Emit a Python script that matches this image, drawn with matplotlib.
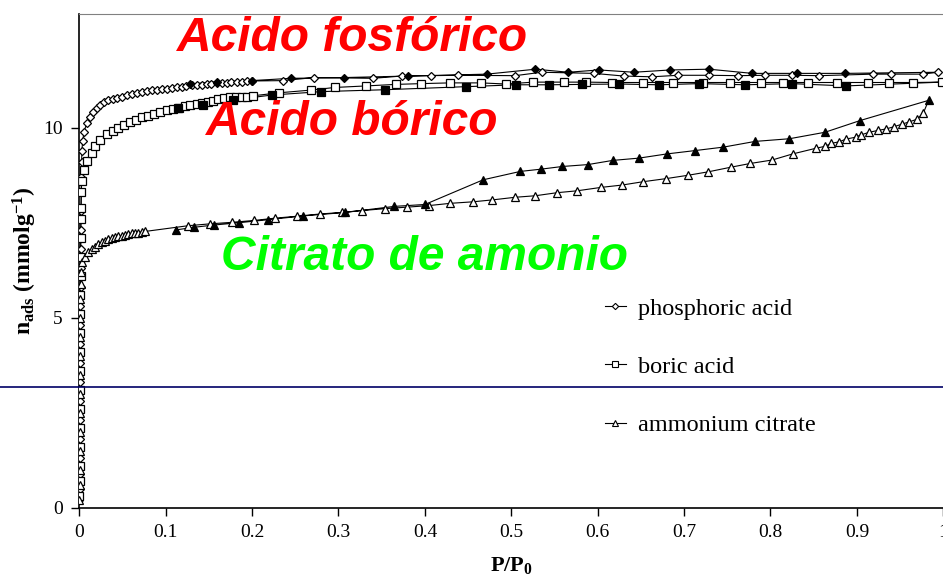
import matplotlib
matplotlib.use("Agg")
import matplotlib.pyplot as plt
from matplotlib.lines import Line2D

plt.rcParams['font.family'] = 'Liberation Serif'
plt.rcParams['mathtext.fontset'] = 'custom'
plt.rcParams['mathtext.rm'] = 'Liberation Serif'
plt.rcParams['mathtext.bf'] = 'Liberation Serif:bold'
plt.rcParams['mathtext.it'] = 'Liberation Serif:italic'

# phosphoric acid - adsorption (open) / desorption (filled)
phos_ads_x = [0.0002, 0.0003, 0.0004, 0.0005, 0.0006, 0.0007, 0.0008, 0.0009, 0.0010, 0.0011,
              0.0012, 0.0013, 0.0014, 0.0015, 0.0016, 0.0018, 0.0020, 0.0022, 0.0024, 0.0027, 0.0030,
              0.0039, 0.0054, 0.0086, 0.0124, 0.0162, 0.020, 0.024, 0.0286, 0.0336, 0.0386,
              0.044, 0.049, 0.0549, 0.0606, 0.0664, 0.0722, 0.078, 0.0838, 0.0896, 0.0954,
              0.101, 0.107, 0.113, 0.1185, 0.124, 0.130, 0.136, 0.1417, 0.1475, 0.153,
              0.159, 0.165, 0.1706, 0.176, 0.182, 0.188, 0.194, 0.1995,
              0.236, 0.2716, 0.340, 0.373, 0.4067, 0.4387, 0.5046, 0.535, 0.5957, 0.630,
              0.663, 0.693, 0.7288, 0.7627, 0.7936, 0.825, 0.8565, 0.919, 0.9395, 0.976, 0.994]
phos_ads_y = [0.2, 0.5, 0.9, 1.3, 1.8, 2.3, 2.8, 3.3, 3.8, 4.3,
              4.8, 5.3, 5.8, 6.3, 6.8, 7.3, 7.8, 8.3, 8.7, 9.1, 9.4,
              9.64, 9.89, 10.12, 10.29, 10.42, 10.53, 10.60, 10.67, 10.72, 10.76,
              10.79, 10.82, 10.85, 10.88, 10.91, 10.93, 10.96, 10.98, 10.99, 11.01,
              11.03, 11.05, 11.06, 11.08, 11.10, 11.12, 11.12, 11.13, 11.15, 11.16,
              11.17, 11.18, 11.19, 11.20, 11.20, 11.21, 11.22, 11.23,
              11.24, 11.32, 11.30, 11.36, 11.37, 11.38, 11.37, 11.46, 11.43, 11.36,
              11.34, 11.38, 11.38, 11.37, 11.38, 11.38, 11.37, 11.41, 11.41, 11.41, 11.46]
phos_des_x = [0.886, 0.831, 0.779, 0.729, 0.684, 0.642, 0.6015, 0.566, 0.528, 0.4715,
              0.381, 0.306, 0.245, 0.1995, 0.159, 0.128]
phos_des_y = [11.43, 11.43, 11.43, 11.54, 11.52, 11.46, 11.52, 11.46, 11.54, 11.41,
              11.36, 11.32, 11.30, 11.24, 11.21, 11.15]

# boric acid
bor_ads_x = [0.0002, 0.0003, 0.0004, 0.0005, 0.0006, 0.0007, 0.0008, 0.0009, 0.0010, 0.0011,
             0.0012, 0.0013, 0.0014, 0.0015, 0.0016, 0.0018, 0.0020, 0.0023,
             0.0028, 0.0054, 0.0093, 0.0144, 0.018, 0.024, 0.0324, 0.0394, 0.045, 0.0517,
             0.0587, 0.0656, 0.0722, 0.0799, 0.0865, 0.0934, 0.101, 0.1088, 0.1157, 0.1223,
             0.128, 0.1359, 0.142, 0.149, 0.155, 0.161, 0.1675, 0.174, 0.181, 0.188,
             0.194, 0.201, 0.2315, 0.268, 0.296, 0.332, 0.366, 0.395, 0.429, 0.4646,
             0.4939, 0.5255, 0.561, 0.587, 0.617, 0.652, 0.687, 0.722, 0.753, 0.789,
             0.815, 0.843, 0.877, 0.9125, 0.9375, 0.965, 0.998]
bor_ads_y = [0.3, 0.7, 1.1, 1.6, 2.1, 2.6, 3.1, 3.6, 4.1, 4.6,
             5.1, 5.6, 6.1, 6.6, 7.1, 7.6, 7.9, 8.3,
             8.6, 8.89, 9.13, 9.33, 9.51, 9.69, 9.83, 9.91, 10.0, 10.07,
             10.14, 10.2, 10.27, 10.32, 10.36, 10.41, 10.47, 10.5, 10.53, 10.57,
             10.6, 10.62, 10.64, 10.68, 10.71, 10.75, 10.77, 10.8, 10.8, 10.82,
             10.82, 10.84, 10.92, 10.99, 11.06, 11.1, 11.14, 11.16, 11.18, 11.18,
             11.15, 11.2, 11.2, 11.2, 11.19, 11.19, 11.19, 11.19, 11.19, 11.19,
             11.19, 11.19, 11.19, 11.19, 11.19, 11.19, 11.2]
bor_des_x = [0.887, 0.825, 0.771, 0.7176, 0.671, 0.6247, 0.5815, 0.544, 0.5054, 0.447,
             0.354, 0.28, 0.2227, 0.1775, 0.1435, 0.1146]
bor_des_y = [11.1, 11.16, 11.13, 11.16, 11.13, 11.15, 11.14, 11.13, 11.13, 11.08,
             11.0, 10.95, 10.86, 10.73, 10.61, 10.51]

# ammonium citrate
cit_ads_x = [0.0002, 0.0003, 0.0004, 0.0005, 0.0006, 0.0007, 0.0008, 0.0009, 0.0010, 0.0011,
             0.0012, 0.0013, 0.0015, 0.0018,
             0.0028, 0.0066, 0.0104, 0.0143, 0.018, 0.022, 0.0259, 0.0297, 0.0336, 0.0375,
             0.0413, 0.0451, 0.049, 0.0529, 0.0567, 0.0606, 0.0645, 0.0683, 0.0722, 0.076,
             0.1255, 0.151, 0.1764, 0.2025, 0.2265, 0.2516, 0.2786, 0.3037, 0.3268, 0.3538,
             0.3793, 0.4043, 0.4292, 0.4554, 0.4779, 0.5046, 0.5279, 0.5529, 0.5762, 0.604,
             0.6278, 0.6528, 0.679, 0.7049, 0.7281, 0.7539, 0.7768, 0.8019, 0.8256, 0.8527,
             0.863, 0.8705, 0.8797, 0.8872, 0.8984, 0.9046, 0.9142, 0.9247, 0.9342, 0.9434,
             0.9517, 0.96, 0.9692, 0.9768]
cit_ads_y = [0.2, 0.6, 1.0, 1.5, 2.0, 2.5, 3.0, 3.5, 4.0, 4.5,
             5.0, 5.5, 5.9, 6.2,
             6.47, 6.61, 6.72, 6.8, 6.87, 6.93, 6.99, 7.03, 7.07, 7.09,
             7.12, 7.14, 7.16, 7.19, 7.2, 7.22, 7.23, 7.24, 7.26, 7.27,
             7.42, 7.47, 7.51, 7.56, 7.62, 7.67, 7.73, 7.77, 7.82, 7.87,
             7.91, 7.95, 8.01, 8.05, 8.1, 8.17, 8.21, 8.29, 8.34, 8.43,
             8.49, 8.58, 8.66, 8.75, 8.84, 8.96, 9.06, 9.15, 9.31, 9.46,
             9.51, 9.59, 9.63, 9.7, 9.75, 9.81, 9.88, 9.93, 9.97, 10.03,
             10.09, 10.15, 10.22, 10.38]
cit_des_x = [0.983, 0.9039, 0.863, 0.8219, 0.7823, 0.7456, 0.7132, 0.6799, 0.6478, 0.6174,
             0.5887, 0.5591, 0.5346, 0.5104, 0.4675, 0.4, 0.3646, 0.3075, 0.2593, 0.2188,
             0.1848, 0.156, 0.1328, 0.1116]
cit_des_y = [10.72, 10.19, 9.88, 9.71, 9.64, 9.49, 9.4, 9.31, 9.2, 9.14,
             9.03, 8.98, 8.91, 8.85, 8.63, 7.98, 7.93, 7.77, 7.68, 7.58,
             7.5, 7.44, 7.38, 7.31]

labels = ['phosphoric acid', 'boric acid', 'ammonium citrate']
x_ticks = [0, 0.1, 0.2, 0.3, 0.4, 0.5, 0.6, 0.7, 0.8, 0.9, 1]
x_tick_labels = ['0', '0.1', '0.2', '0.3', '0.4', '0.5', '0.6', '0.7', '0.8', '0.9', '1']
y_ticks = [0, 5, 10]


def isotherm(ax, ads_x, ads_y, des_x, des_y, marker, ms):
    ax.plot(ads_x + des_x, ads_y + des_y, '-', color='black', lw=0.8, zorder=2)
    ax.plot(ads_x, ads_y, marker, ls='none', ms=ms, mfc='white', mec='black', mew=0.9, zorder=3)
    ax.plot(des_x, des_y, marker, ls='none', ms=ms, mfc='black', mec='black', mew=0.9, zorder=3)


fig = plt.figure(figsize=(9.43, 5.79), dpi=100)
ax = fig.add_axes([0.0841, 0.1231, 0.9162, 0.8532])

isotherm(ax, phos_ads_x, phos_ads_y, phos_des_x, phos_des_y, 'D', 4.4)
isotherm(ax, bor_ads_x, bor_ads_y, bor_des_x, bor_des_y, 's', 5.2)
isotherm(ax, cit_ads_x, cit_ads_y, cit_des_x, cit_des_y, '^', 5.4)

ax.set_xlim(0, 1)
ax.set_ylim(0, 13)
ax.set_xticks(x_ticks)
ax.set_xticklabels(x_tick_labels)
ax.set_yticks(y_ticks)
ax.tick_params(direction='out', length=6, width=1, labelsize=14, pad=6)
for s in ['left', 'bottom']:
    ax.spines[s].set_linewidth(1.2)
ax.spines['top'].set_color('#808080')
ax.spines['right'].set_visible(False)

ax.set_xlabel(r'P/P$_{\mathbf{0}}$', fontsize=16, fontweight='bold', labelpad=10)
ax.set_ylabel(r'n$_{\mathbf{ads}}$ (mmolg$^{\mathbf{-1}}$)', fontsize=17, fontweight='bold', labelpad=3)

# red / green captions
ax.text(0.3168, 12.36, 'Acido fosfórico', color='#ff0000', fontsize=34.5, fontweight='bold',
        fontstyle='italic', family='Liberation Sans', ha='center', va='center')
ax.text(0.316, 10.14, 'Acido bórico', color='#ff0000', fontsize=34.5, fontweight='bold',
        fontstyle='italic', family='Liberation Sans', ha='center', va='center')
ax.text(0.40, 6.59, 'Citrato de amonio', color='#00ff00', fontsize=34.5, fontweight='bold',
        fontstyle='italic', family='Liberation Sans', ha='center', va='center')

handles = [Line2D([], [], color='black', lw=0.8, marker=m, ms=s, mfc='white', mec='black', mew=0.8)
           for m, s in [('D', 3.2), ('s', 4.0), ('^', 4.0)]]
ax.legend(handles, labels, loc='upper left', bbox_to_anchor=(0.6415, 0.486), bbox_transform=fig.transFigure,
          frameon=False, fontsize=17.5, handlelength=0.85, handletextpad=0.5, labelspacing=1.49,
          borderaxespad=0, borderpad=0)

# stray horizontal line crossing the whole picture
fig.add_artist(Line2D([0, 1], [0.3316, 0.3316], transform=fig.transFigure, color='#000066', lw=1.2))

fig.savefig('out.png', dpi=100)
